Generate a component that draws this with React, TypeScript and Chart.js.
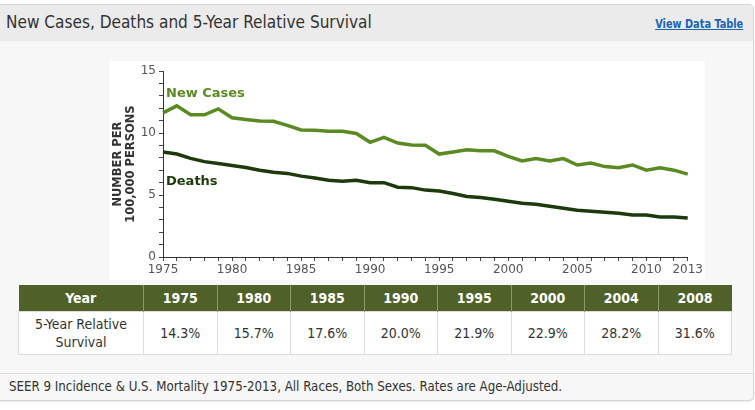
import React, { useEffect, useRef } from "react";
import { Chart, registerables } from "chart.js";

Chart.register(...registerables);

const years = [
  "1975", "1976", "1977", "1978", "1979", "1980", "1981", "1982", "1983", "1984",
  "1985", "1986", "1987", "1988", "1989", "1990", "1991", "1992", "1993", "1994",
  "1995", "1996", "1997", "1998", "1999", "2000", "2001", "2002", "2003", "2004",
  "2005", "2006", "2007", "2008", "2009", "2010", "2011", "2012", "2013",
];
const newCases = [
  11.64, 12.2, 11.48, 11.48, 11.96, 11.24, 11.1, 10.98, 10.95, 10.63,
  10.26, 10.24, 10.16, 10.16, 9.97, 9.26, 9.66, 9.2, 9.05, 9.02,
  8.31, 8.47, 8.65, 8.57, 8.57, 8.12, 7.75, 7.94, 7.75, 7.94,
  7.43, 7.59, 7.3, 7.2, 7.43, 7.01, 7.2, 7.01, 6.69,
];
const deaths = [
  8.47, 8.31, 7.96, 7.7, 7.54, 7.38, 7.22, 7.01, 6.85, 6.75,
  6.53, 6.38, 6.19, 6.11, 6.19, 6.0, 6.0, 5.63, 5.6, 5.4,
  5.32, 5.13, 4.89, 4.81, 4.66, 4.5, 4.34, 4.26, 4.1, 3.94,
  3.78, 3.7, 3.62, 3.54, 3.39, 3.39, 3.23, 3.23, 3.15,
];
const xTickLabels = ["1975", "1980", "1985", "1990", "1995", "2000", "2005", "2010", "2013"];
const yTickValues = [0, 1, 2, 3, 4, 5, 6, 7, 8, 9, 10, 11, 12, 13, 14, 15];
const yTickLabels = [0, 5, 10, 15];

const survivalYears = ["1975", "1980", "1985", "1990", "1995", "2000", "2004", "2008"];
const survivalValues = ["14.3%", "15.7%", "17.6%", "20.0%", "21.9%", "22.9%", "28.2%", "31.6%"];

const GREEN = "#5b8a23";
const DARK = "#1d3a0c";
const NARROW = '"Liberation Sans Narrow", "DejaVu Sans Condensed", "Arial Narrow", sans-serif';
const VERDANA = '"DejaVu Sans", Verdana, sans-serif';

const seriesLabelPlugin = {
  id: "seriesLabels",
  afterDatasetsDraw(chart: any) {
    const { ctx, scales } = chart;
    const x = scales.x.getPixelForValue(0) + 3;
    ctx.save();
    ctx.font = `bold 13px ${VERDANA}`;
    ctx.textBaseline = "middle";
    ctx.textAlign = "left";
    ctx.fillStyle = GREEN;
    ctx.fillText("New Cases", x, scales.y.getPixelForValue(13.2));
    ctx.fillStyle = DARK;
    ctx.fillText("Deaths", x, scales.y.getPixelForValue(6.05));
    ctx.restore();
  },
};

function LineChart() {
  const ref = useRef<HTMLCanvasElement>(null);
  useEffect(() => {
    if (!ref.current) return;
    const chart = new Chart(ref.current, {
      type: "line",
      data: {
        labels: years,
        datasets: [
          {
            label: "New Cases",
            data: newCases,
            borderColor: GREEN,
            borderWidth: 3.5,
            pointRadius: 0,
            tension: 0,
            fill: false,
          },
          {
            label: "Deaths",
            data: deaths,
            borderColor: DARK,
            borderWidth: 3.5,
            pointRadius: 0,
            tension: 0,
            fill: false,
          },
        ],
      },
      options: {
        responsive: false,
        animation: false,
        devicePixelRatio: 1,
        layout: { padding: { top: 5, right: 13, left: 0, bottom: 0 } },
        plugins: {
          legend: { display: false },
          tooltip: { enabled: false },
        },
        scales: {
          x: {
            type: "category",
            offset: false,
            grid: {
              drawOnChartArea: false,
              drawTicks: true,
              tickLength: 4,
              color: "#444",
            },
            border: { display: true, color: "#333", width: 1 },
            ticks: {
              autoSkip: false,
              maxRotation: 0,
              minRotation: 0,
              padding: 2,
              color: "#555",
              font: { family: VERDANA, size: 12 },
              callback: (v: any, i: number) =>
                xTickLabels.includes(years[i]) ? years[i] : "",
            },
            afterFit: (s: any) => {
              s.height = 23;
            },
          },
          y: {
            type: "linear",
            min: 0,
            max: 15,
            afterBuildTicks: (s: any) => {
              s.ticks = yTickValues.map((v) => ({ value: v }));
            },
            grid: {
              drawOnChartArea: false,
              drawTicks: true,
              tickLength: 4,
              color: "#444",
            },
            border: { display: true, color: "#333", width: 1 },
            ticks: {
              autoSkip: false,
              padding: 3,
              color: "#555",
              font: { family: VERDANA, size: 12 },
              callback: (v: any) => (yTickLabels.includes(Number(v)) ? String(v) : ""),
            },
            title: {
              display: true,
              text: ["NUMBER PER", "100,000 PERSONS"],
              color: "#333",
              font: { family: VERDANA, size: 11.5, weight: "bold", lineHeight: 1.15 },
              padding: { top: 2, bottom: 2 },
            },
            afterFit: (s: any) => {
              s.width = 54;
            },
          },
        },
      },
      plugins: [seriesLabelPlugin],
    });
    return () => chart.destroy();
  }, []);
  return <canvas ref={ref} width={596} height={219} style={{ display: "block" }} />;
}

export default function App() {
  const cellBorder = "1px solid #dcdcdc";
  return (
    <div
      style={{
        position: "absolute",
        left: 0,
        top: 0,
        width: 755,
        height: 410,
        overflow: "hidden",
        background: "#ffffff",
      }}
    >
      <div
        style={{
          position: "absolute",
          left: -6,
          top: 4,
          width: 758,
          height: 395,
          background: "#f6f7f6",
          border: "1px solid #d6d6d6",
          borderRadius: 5,
          boxShadow: "0 1px 2px rgba(0,0,0,0.08)",
          overflow: "hidden",
        }}
      >
        <div
          style={{
            position: "absolute",
            left: 0,
            top: 0,
            width: "100%",
            height: 36,
            background: "#ebebeb",
          }}
        />
        <div
          style={{
            position: "absolute",
            left: 11,
            top: 6,
            fontFamily: NARROW,
            fontSize: 18,
            color: "#333",
            whiteSpace: "nowrap",
            transform: "scaleX(0.948)",
            transformOrigin: "left center",
          }}
        >
          New Cases, Deaths and 5-Year Relative Survival
        </div>
        <div
          style={{
            position: "absolute",
            right: 10,
            top: 11,
            fontFamily: NARROW,
            fontSize: 12.5,
            fontWeight: "bold",
            color: "#1b64b4",
            textDecoration: "underline",
            whiteSpace: "nowrap",
            transform: "scaleX(0.87)",
            transformOrigin: "right center",
          }}
        >
          View Data Table
        </div>
        <div
          style={{
            position: "absolute",
            left: 114,
            top: 56,
            width: 596,
            height: 219,
            background: "#ffffff",
          }}
        >
          <LineChart />
        </div>
        <table
          style={{
            position: "absolute",
            left: 23,
            top: 280,
            width: 714,
            borderCollapse: "collapse",
            tableLayout: "fixed",
            fontFamily: NARROW,
            fontSize: 14,
            color: "#333",
            background: "#fff",
          }}
        >
          <colgroup>
            <col style={{ width: 125 }} />
            {survivalYears.map((y) => (
              <col key={y} />
            ))}
          </colgroup>
          <thead>
            <tr style={{ background: "#4f6128", color: "#fff", height: 26 }}>
              <th style={{ padding: 0, fontWeight: "bold", borderRight: "1px solid #8a9a6a" }}>Year</th>
              {survivalYears.map((y, i) => (
                <th
                  key={y}
                  style={{
                    padding: 0,
                    fontWeight: "bold",
                    borderRight: i < survivalYears.length - 1 ? "1px solid #8a9a6a" : "none",
                  }}
                >
                  {y}
                </th>
              ))}
            </tr>
          </thead>
          <tbody>
            <tr style={{ height: 43 }}>
              <td
                style={{
                  padding: 0,
                  textAlign: "center",
                  lineHeight: "18px",
                  border: cellBorder,
                }}
              >
                5-Year Relative
                <br />
                Survival
              </td>
              {survivalValues.map((v, i) => (
                <td key={i} style={{ padding: 0, textAlign: "center", border: cellBorder }}>
                  {v}
                </td>
              ))}
            </tr>
          </tbody>
        </table>
        <div
          style={{
            position: "absolute",
            left: 0,
            top: 368,
            width: "100%",
            height: 1,
            background: "#dcdcdc",
          }}
        />
        <div
          style={{
            position: "absolute",
            left: 14,
            top: 374,
            fontFamily: NARROW,
            fontSize: 13.2,
            color: "#333",
            whiteSpace: "nowrap",
          }}
        >
          SEER 9 Incidence &amp; U.S. Mortality 1975-2013, All Races, Both Sexes. Rates are Age-Adjusted.
        </div>
      </div>
    </div>
  );
}
